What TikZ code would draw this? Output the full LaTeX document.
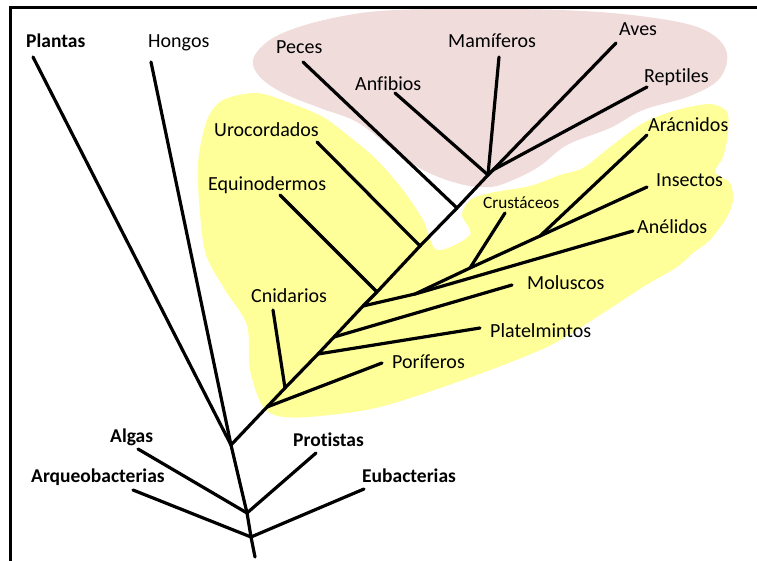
\documentclass[tikz,border=0pt]{standalone}
\usepackage{fontspec}
\setmainfont[Ligatures=NoCommon]{Carlito}
\definecolor{rosa}{RGB}{241,220,220}
\definecolor{amarillo}{RGB}{255,255,153}
\begin{document}
\begin{tikzpicture}[x=1pt,y=-1pt,
  rama/.style={line width=3.2pt,line cap=round,line join=round},
  grupo/.style={anchor=base west,inner sep=0pt,font=\fontsize{20}{24}\selectfont},
  reino/.style={anchor=base west,inner sep=0pt,font=\fontsize{19.5}{23}\selectfont\bfseries}]
  \useasboundingbox (0,0) rectangle (757,561);
  % manchas de fondo
  \fill[rosa] plot[smooth cycle,tension=0.6] coordinates {(253,60) (267,42) (293,29) (333,18) (380,11) (450,9) (560,10) (640,16) (700,28) (726,50) (720,78) (690,96) (643,110) (610,128) (567,145) (540,166) (513,180) (490,187) (460,184) (423,170) (390,147) (357,122) (320,108) (283,93) (260,77)};
  \fill[amarillo] plot[smooth cycle,tension=0.5] coordinates {(257,93) (290,103) (323,117) (350,137) (377,160) (403,190) (423,220) (437,250) (470,235) (462,215) (470,200) (490,193) (530,186) (560,175) (583,168) (610,147) (643,123) (677,110) (710,104) (727,112) (728,133) (723,157) (715,172) (730,183) (733,200) (727,217) (710,240) (693,253) (677,267) (643,287) (600,315) (547,347) (463,380) (380,407) (320,416) (283,417) (263,407) (250,370) (247,325) (225,290) (206,255) (200,213) (198,163) (207,120) (223,100)};
  \draw[line width=3pt] (757,8) -- (10,8) -- (10,561);
  % puntos del tronco
  \coordinate (raiz) at (255,557);
  \coordinate (r1) at (251,537);
  \coordinate (r2) at (247,513);
  \coordinate (r3) at (231,445);
  \coordinate (por) at (267,407);
  \coordinate (cni) at (285,388);
  \coordinate (pla) at (318,354);
  \coordinate (mol) at (334,337);
  \coordinate (art) at (363,306);
  \coordinate (equ) at (377,292);
  \coordinate (uro) at (420,246);
  \coordinate (pec) at (457,208);
  \coordinate (ver) at (488,175);
  \coordinate (avr) at (493,170);
  \coordinate (ane) at (415,294);
  \coordinate (cru) at (470,268);
  \coordinate (ins) at (540,236);
  % puntas
  \coordinate (t-arqueo) at (133,490);
  \coordinate (t-eubac) at (364,489);
  \coordinate (t-algas) at (138,449);
  \coordinate (t-protis) at (316,453);
  \coordinate (t-plantas) at (33,57);
  \coordinate (t-hongos) at (151,62);
  \coordinate (t-porif) at (382,363);
  \coordinate (t-cnid) at (273,310);
  \coordinate (t-platel) at (480,328);
  \coordinate (t-molus) at (512,285);
  \coordinate (t-anel) at (633,231);
  \coordinate (t-crust) at (505,213);
  \coordinate (t-aracn) at (647,135);
  \coordinate (t-insec) at (647,187);
  \coordinate (t-equin) at (280,195);
  \coordinate (t-uroc) at (317,142);
  \coordinate (t-peces) at (303,62);
  \coordinate (t-anfib) at (395,93);
  \coordinate (t-mamif) at (499,57);
  \coordinate (t-aves) at (616,43);
  \coordinate (t-rept) at (647,87);
  % ramas
  \draw[rama] (raiz) -- (r1) -- (r2) -- (r3) -- (t-hongos);
  \draw[rama] (r1) -- (t-arqueo);
  \draw[rama] (r1) -- (t-eubac);
  \draw[rama] (r2) -- (t-algas);
  \draw[rama] (r2) -- (t-protis);
  \draw[rama] (r3) -- (t-plantas);
  \draw[rama] (r3) -- (por) -- (cni) -- (pla) -- (mol) -- (art) -- (equ) -- (uro) -- (pec) -- (ver);
  \draw[rama] (por) -- (t-porif);
  \draw[rama] (cni) -- (t-cnid);
  \draw[rama] (pla) -- (t-platel);
  \draw[rama] (mol) -- (t-molus);
  \draw[rama] (art) -- (ane) -- (t-anel);
  \draw[rama] (ane) -- (cru) -- (ins) -- (t-aracn);
  \draw[rama] (ins) -- (t-insec);
  \draw[rama] (cru) -- (t-crust);
  \draw[rama] (equ) -- (t-equin);
  \draw[rama] (uro) -- (t-uroc);
  \draw[rama] (pec) -- (t-peces);
  \draw[rama] (ver) -- (t-anfib);
  \draw[rama] (ver) -- (t-mamif);
  \draw[rama] (ver) -- (avr) -- (t-aves);
  \draw[rama] (avr) -- (t-rept);
  % nombres
  \node[reino] (plantas) at (26,48) {Plantas};
  \node[grupo] (hongos) at (148,48) {Hongos};
  \node[grupo] (peces) at (276,54) {Peces};
  \node[grupo] (anfibios) at (355,91) {Anfibios};
  \node[grupo] (mamiferos) at (448,48) {Mamíferos};
  \node[grupo] (aves) at (619,36) {Aves};
  \node[grupo] (reptiles) at (644,83) {Reptiles};
  \node[grupo] (aracnidos) at (648,132) {Arácnidos};
  \node[grupo] (insectos) at (656,187) {Insectos};
  \node[grupo] (anelidos) at (637,234) {Anélidos};
  \node[grupo,font=\fontsize{17.2}{20}\selectfont] (crustaceos) at (483,209) {Crustáceos};
  \node[grupo] (urocordados) at (214,137) {Urocordados};
  \node[grupo] (equinodermos) at (208,191) {Equinodermos};
  \node[grupo] (cnidarios) at (251,302) {Cnidarios};
  \node[grupo] (moluscos) at (527,289) {Moluscos};
  \node[grupo] (platelmintos) at (490,337) {Platelmintos};
  \node[grupo] (poriferos) at (392,368) {Poríferos};
  \node[reino] (algas) at (110,442) {Algas};
  \node[reino] (protistas) at (293,446) {Protistas};
  \node[reino] (arqueobacterias) at (31,482) {Arqueobacterias};
  \node[reino] (eubacterias) at (362,482) {Eubacterias};
\end{tikzpicture}
\end{document}
